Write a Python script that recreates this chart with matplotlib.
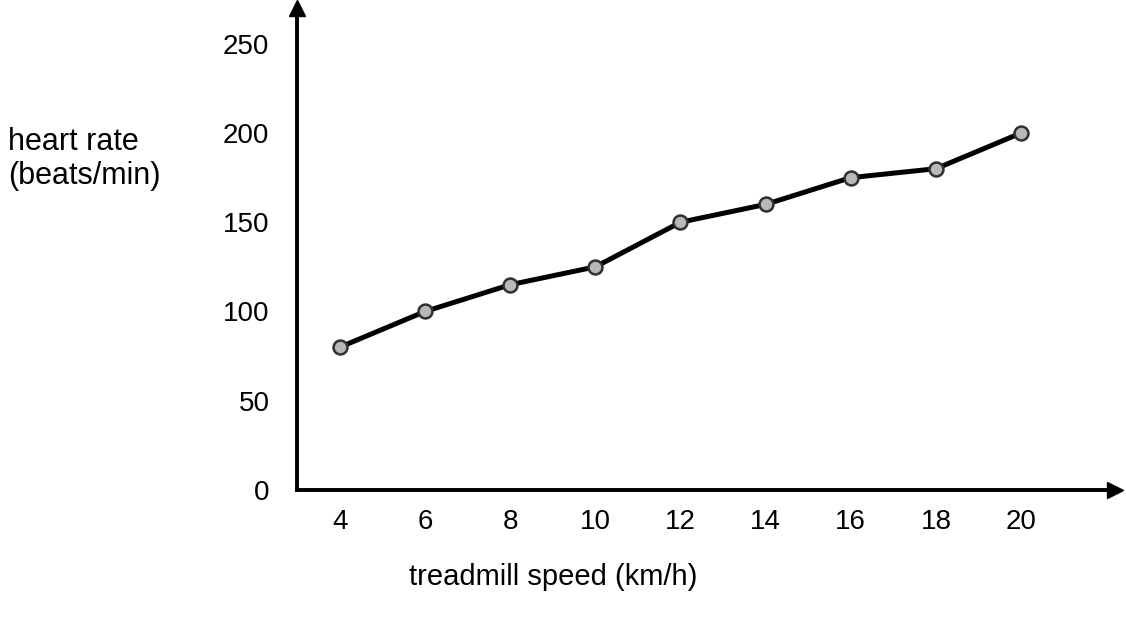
import matplotlib
matplotlib.use("Agg")
import matplotlib.pyplot as plt

speed = [4, 6, 8, 10, 12, 14, 16, 18, 20]
heart_rate = [80, 100, 115, 125, 150, 160, 175, 180, 200]
y_ticks = [0, 50, 100, 150, 200, 250]

plt.rcParams['font.family'] = ['Liberation Sans', 'DejaVu Sans']

fig = plt.figure(figsize=(11.26, 6.21), dpi=100)
ax = fig.add_axes([0.264, 0.211, 0.726, 0.776])
ax.plot(speed, heart_rate, color='black', lw=3.6, marker='o', ms=10,
        mfc='#b8b8b8', mec='#303030', mew=1.8, zorder=3)
ax.set_xlim(3, 22.2)
ax.set_ylim(0, 270)
ax.set_xticks(speed)
ax.set_yticks(y_ticks)
ax.tick_params(length=0, labelsize=20)
ax.tick_params(axis='y', pad=20)
ax.tick_params(axis='x', pad=14)
for s in ['top', 'right']:
    ax.spines[s].set_visible(False)
for s in ['left', 'bottom']:
    ax.spines[s].set_linewidth(2.8)
ax.plot(1, 0, '>k', ms=11, transform=ax.transAxes, clip_on=False)
ax.plot(0, 1, '^k', ms=11, transform=ax.transAxes, clip_on=False)

fig.text(0.491, 0.071, 'treadmill speed (km/h)', fontsize=21, ha='center', va='center')
fig.text(0.007, 0.744, 'heart rate\n(beats/min)', fontsize=22, ha='left', va='center',
         linespacing=1.15)

fig.savefig('out.png', dpi=100)
